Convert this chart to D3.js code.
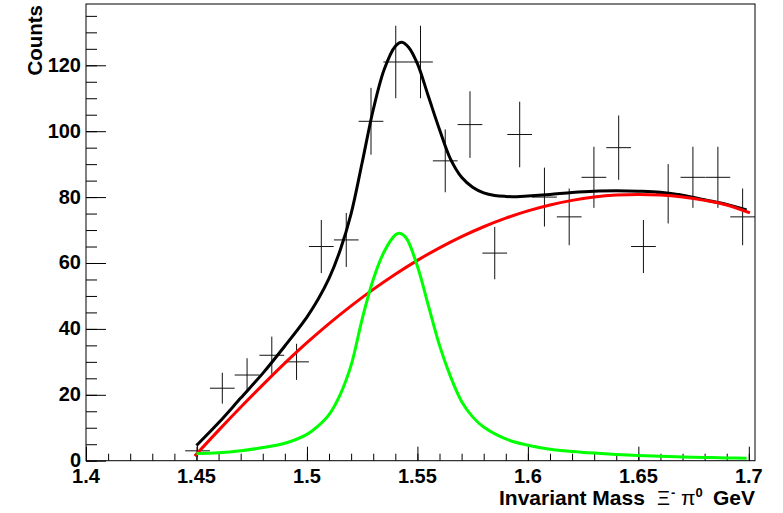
<!DOCTYPE html>
<html>
<head>
<meta charset="utf-8">
<script src="https://cdn.jsdelivr.net/npm/d3@7"></script>
<style>
  html, body { margin: 0; padding: 0; background: #fff; }
  svg { display: block; }
  text { font-family: "Liberation Sans", Arial, Helvetica, sans-serif; }
</style>
</head>
<body>
<svg id="chart" width="783" height="513"></svg>
<script>
// ---------------- data ----------------
const binCenters = [1.4505, 1.4617, 1.4729, 1.4841, 1.4953, 1.5065, 1.5178, 1.5290, 1.5402, 1.5514,
                    1.5626, 1.5738, 1.5850, 1.5963, 1.6075, 1.6187, 1.6299, 1.6411, 1.6523, 1.6635,
                    1.6747, 1.6860, 1.6972];
const counts = [3, 22, 26, 32, 30, 65, 67, 103, 121, 121, 91, 102, 63, 99, 80, 74, 86, 95, 65, 81, 86, 86, 74];
const countErrors = [1.73, 4.69, 5.10, 5.66, 5.48, 8.06, 8.19, 10.15, 11.0, 11.0, 9.54, 10.10, 7.94, 9.95,
                     8.94, 8.60, 9.27, 9.75, 8.06, 9.0, 9.27, 9.27, 8.60];
const binHalfWidth = 0.0056;

// total fit (black)
const totalX = [1.45, 1.46, 1.47, 1.48, 1.49, 1.50, 1.505, 1.51, 1.515, 1.52, 1.525, 1.53, 1.535, 1.54,
                1.543, 1.546, 1.55, 1.555, 1.56, 1.565, 1.57, 1.575, 1.58, 1.585, 1.59, 1.595, 1.60,
                1.61, 1.62, 1.63, 1.64, 1.65, 1.66, 1.67, 1.68, 1.69, 1.699];
const totalY = [4.6, 11.5, 19.0, 26.5, 34.8, 43.6, 48.9, 55.3, 63.8, 75.0, 90.5, 106.5, 118.8, 125.8,
                127.0, 125.5, 120.5, 110.5, 100.5, 91.5, 86.0, 83.0, 81.3, 80.5, 80.2, 80.1, 80.3,
                80.8, 81.4, 81.8, 81.9, 81.8, 81.5, 80.6, 79.2, 77.8, 76.1];

// background (red)
const bkgX = [1.4492, 1.46, 1.47, 1.48, 1.49, 1.50, 1.51, 1.52, 1.53, 1.54, 1.55, 1.56, 1.57, 1.58,
              1.59, 1.60, 1.61, 1.62, 1.63, 1.64, 1.65, 1.66, 1.67, 1.68, 1.69, 1.7005];
const bkgY = [1.4, 9.2, 16.2, 23.0, 29.6, 35.8, 41.6, 47.0, 52.0, 56.6, 60.8, 64.6, 68.0, 71.0,
              73.6, 75.8, 77.6, 79.0, 80.0, 80.6, 80.8, 80.6, 80.0, 79.0, 77.6, 75.2];

// signal (green)
const sigX = [1.45, 1.46, 1.47, 1.48, 1.49, 1.50, 1.505, 1.51, 1.515, 1.52, 1.525, 1.53, 1.535, 1.54,
              1.542, 1.545, 1.55, 1.555, 1.56, 1.565, 1.57, 1.575, 1.58, 1.59, 1.60, 1.61, 1.62,
              1.63, 1.64, 1.65, 1.66, 1.67, 1.68, 1.69, 1.699];
const sigY = [2.2, 2.4, 3.0, 4.0, 5.3, 8.0, 10.5, 14.0, 20.0, 29.0, 43.0, 55.0, 63.5, 68.5,
              69.0, 67.5, 59.0, 47.0, 35.0, 25.5, 18.0, 13.3, 10.2, 6.6, 4.7, 3.5, 2.8,
              2.3, 1.9, 1.6, 1.35, 1.15, 1.0, 0.85, 0.75];

const xTickValues = [1.4, 1.45, 1.5, 1.55, 1.6, 1.65, 1.7];
const xTickLabels = ["1.4", "1.45", "1.5", "1.55", "1.6", "1.65", "1.7"];
const yTickValues = [0, 20, 40, 60, 80, 100, 120];
const yTickLabels = ["0", "20", "40", "60", "80", "100", "120"];

// ---------------- layout ----------------
const frame = { left: 86, right: 755, top: 4, bottom: 460.7 };
const svg = d3.select("#chart");

const x = d3.scaleLinear().domain([1.4, 1.7028]).range([frame.left, frame.right]);
const y = d3.scaleLinear().domain([0, 138.6]).range([frame.bottom, frame.top]);

svg.append("rect").attr("x", 0).attr("y", 0).attr("width", 783).attr("height", 513).attr("fill", "#fff");

// ---------------- axes (ROOT style, ticks inward) ----------------
const xAxisMajor = d3.axisTop(x).tickValues(xTickValues).tickSize(14).tickFormat("");
const xAxisMinor = d3.axisTop(x).tickValues(d3.range(1.40, 1.7001, 0.01)).tickSize(7).tickFormat("");
const yAxisMajor = d3.axisRight(y).tickValues(yTickValues).tickSize(20).tickFormat("");
const yAxisMinor = d3.axisRight(y).tickValues(d3.range(0, 136, 5)).tickSize(11).tickFormat("");

function styleAxis(g) {
  g.select(".domain").remove();
  g.selectAll(".tick line").attr("stroke", "#000").attr("stroke-width", 1);
}
svg.append("g").attr("transform", `translate(0,${frame.bottom})`).call(xAxisMinor).call(styleAxis);
svg.append("g").attr("transform", `translate(0,${frame.bottom})`).call(xAxisMajor).call(styleAxis);
svg.append("g").attr("transform", `translate(${frame.left},0)`).call(yAxisMinor).call(styleAxis);
svg.append("g").attr("transform", `translate(${frame.left},0)`).call(yAxisMajor).call(styleAxis);

// tick labels
svg.append("g").selectAll("text").data(xTickValues).join("text")
  .attr("x", d => x(d)).attr("y", 483)
  .attr("text-anchor", "middle")
  .attr("font-size", 20).attr("font-weight", "bold")
  .text((d, i) => xTickLabels[i]);

svg.append("g").selectAll("text").data(yTickValues).join("text")
  .attr("x", 81).attr("y", d => y(d) + 6.5)
  .attr("text-anchor", "end")
  .attr("font-size", 20).attr("font-weight", "bold")
  .text((d, i) => yTickLabels[i]);

// axis titles
svg.append("text")
  .attr("transform", "translate(41.5,5) rotate(-90)")
  .attr("text-anchor", "end")
  .attr("font-size", 20.5).attr("font-weight", "bold")
  .text("Counts");

const titleY = 504.5;
const titleParts = [
  { t: "Invariant Mass", x: 499, size: 21, weight: "bold", dy: 0 },
  { t: "Ξ", x: 657, size: 20, weight: "normal", dy: 0 },
  { t: "-", x: 671, size: 13, weight: "bold", dy: -8 },
  { t: "π", x: 681, size: 21, weight: "normal", dy: 0 },
  { t: "0", x: 695.5, size: 13, weight: "bold", dy: -8 },
  { t: "GeV", x: 713, size: 21, weight: "bold", dy: 0 }
];
svg.append("g").selectAll("text").data(titleParts).join("text")
  .attr("x", d => d.x).attr("y", d => titleY + d.dy)
  .attr("font-size", d => d.size).attr("font-weight", d => d.weight)
  .text(d => d.t);

// ---------------- data crosses ----------------
const pts = binCenters.map((c, i) => ({ c, v: counts[i], e: countErrors[i] }));
const crosses = svg.append("g").attr("stroke", "#111").attr("stroke-width", 1);
crosses.selectAll("line.h").data(pts).join("line").attr("class", "h")
  .attr("x1", d => x(d.c - binHalfWidth)).attr("x2", d => Math.min(x(d.c + binHalfWidth), frame.right))
  .attr("y1", d => y(d.v)).attr("y2", d => y(d.v));
crosses.selectAll("line.v").data(pts).join("line").attr("class", "v")
  .attr("x1", d => x(d.c)).attr("x2", d => x(d.c))
  .attr("y1", d => y(d.v - d.e)).attr("y2", d => Math.max(y(d.v + d.e), frame.top));

// ---------------- fit curves ----------------
function curve(xs, ys, color) {
  const line = d3.line().x(d => x(d[0])).y(d => y(d[1])).curve(d3.curveCatmullRom.alpha(0.5));
  svg.append("path")
    .attr("d", line(xs.map((v, i) => [v, ys[i]])))
    .attr("fill", "none").attr("stroke", color).attr("stroke-width", 3)
    .attr("stroke-linejoin", "round");
}
curve(totalX, totalY, "#000000");
curve(bkgX, bkgY, "#ff0000");
curve(sigX, sigY, "#00ff00");

// frame
svg.append("rect")
  .attr("x", frame.left).attr("y", frame.top)
  .attr("width", frame.right - frame.left).attr("height", frame.bottom - frame.top)
  .attr("fill", "none").attr("stroke", "#000").attr("stroke-width", 1);
</script>
</body>
</html>
